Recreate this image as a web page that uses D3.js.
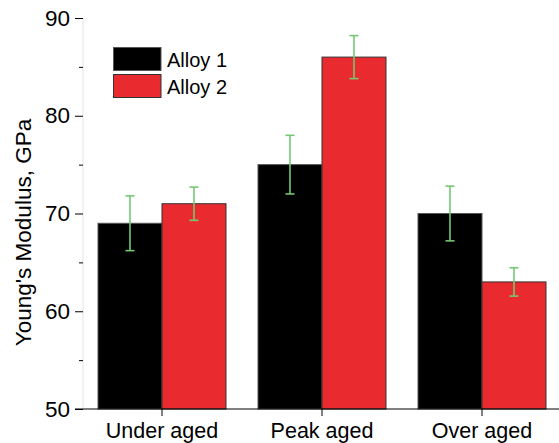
<!DOCTYPE html>
<html><head><meta charset="utf-8">
<script src="https://cdn.jsdelivr.net/npm/d3@7"></script>
<style>body{margin:0;background:#fff}svg{display:block}text{font-family:"Liberation Sans",Arial,sans-serif}</style>
</head><body>
<svg id="c" width="559" height="443"></svg>
<script>
const categories = ["Under aged", "Peak aged", "Over aged"];
const seriesNames = ["Alloy 1", "Alloy 2"];
const alloy1 = [69, 75, 70];
const alloy2 = [71, 86, 63];
const alloy1Err = [2.8, 3.0, 2.8];
const alloy2Err = [1.7, 2.2, 1.45];
const yTicks = [50, 60, 70, 80, 90];
const yMinorTicks = [55, 65, 75, 85];
const colors = ["#000000", "#e92b30"];
const strokes = ["#555555", "#333333"];

const svg = d3.select("#c");
const x = d3.scaleBand().domain(categories).range([82, 562]).paddingInner(0.2).paddingOuter(0.1);
const xs = d3.scaleBand().domain(seriesNames).range([0, x.bandwidth()]);
const y = d3.scaleLinear().domain([50, 90]).range([409, 18]);

const values = [alloy1, alloy2], errs = [alloy1Err, alloy2Err];
const data = [];
categories.forEach((c, i) => seriesNames.forEach((s, j) => data.push({c, s, j, v: values[j][i], e: errs[j][i]})));

// y axis line (faint)
svg.append("line").attr("x1", 83).attr("x2", 83).attr("y1", y(90)).attr("y2", y(50))
  .attr("stroke", "#e4e4e4").attr("stroke-width", 1);

// bars
svg.selectAll("rect.bar").data(data).join("rect").attr("class", "bar")
  .attr("x", d => x(d.c) + xs(d.s))
  .attr("y", d => y(d.v))
  .attr("width", xs.bandwidth())
  .attr("height", d => y(50) - y(d.v))
  .attr("fill", d => colors[d.j])
  .attr("stroke", d => strokes[d.j]).attr("stroke-width", 1);

// error bars
const eb = svg.selectAll("g.err").data(data).join("g").attr("class", "err")
  .attr("stroke", "#74c874").attr("stroke-width", 1.6);
eb.append("line")
  .attr("x1", d => x(d.c) + xs(d.s) + xs.bandwidth()/2).attr("x2", d => x(d.c) + xs(d.s) + xs.bandwidth()/2)
  .attr("y1", d => y(d.v + d.e)).attr("y2", d => y(d.v - d.e));
[1, -1].forEach(sg => {
  eb.append("line")
    .attr("x1", d => x(d.c) + xs(d.s) + xs.bandwidth()/2 - 4.5).attr("x2", d => x(d.c) + xs(d.s) + xs.bandwidth()/2 + 4.5)
    .attr("y1", d => y(d.v + sg*d.e)).attr("y2", d => y(d.v + sg*d.e));
});

const FONT = '"Liberation Sans",Arial,sans-serif';
// y axis ticks
const yAxis = d3.axisLeft(y).tickValues(yTicks).tickSize(8).tickPadding(5).tickFormat(d3.format("d"));
const ga = svg.append("g").attr("transform", "translate(83,0)").call(yAxis);
ga.select(".domain").remove();
ga.selectAll("text").attr("font-size", 22.5).attr("fill", "#000").style("font-family", FONT);
ga.selectAll("line").attr("stroke", "#000");
const gm = svg.append("g").attr("transform", "translate(83,0)")
  .call(d3.axisLeft(y).tickValues(yMinorTicks).tickSize(4).tickFormat(""));
gm.select(".domain").remove();
gm.selectAll("line").attr("stroke", "#000");

// x axis
svg.append("line").attr("x1", 75).attr("x2", 559).attr("y1", 409).attr("y2", 409).attr("stroke", "#000").attr("stroke-width", 1.2);
const gx = svg.append("g").attr("transform", "translate(0,409)")
  .call(d3.axisBottom(x).tickSize(7).tickPadding(7));
gx.select(".domain").remove();
gx.selectAll("line").attr("stroke", "#000");
gx.selectAll("text").attr("font-size", 21.5).attr("fill", "#000").style("font-family", FONT);

// y title
svg.append("text").attr("transform", "translate(31,232.5) rotate(-90)")
  .attr("text-anchor", "middle").attr("font-size", 22.5).text("Young's Modulus, GPa");

// legend
const lg = svg.append("g");
seriesNames.forEach((s, j) => {
  lg.append("rect").attr("x", 113.5).attr("y", 47.5 + j*27).attr("width", 47.5).attr("height", 23)
    .attr("fill", colors[j]).attr("stroke", strokes[j]).attr("stroke-width", 1);
  lg.append("text").attr("x", 167).attr("y", 66.5 + j*27).attr("font-size", 20).text(s);
});
</script>
</body></html>
